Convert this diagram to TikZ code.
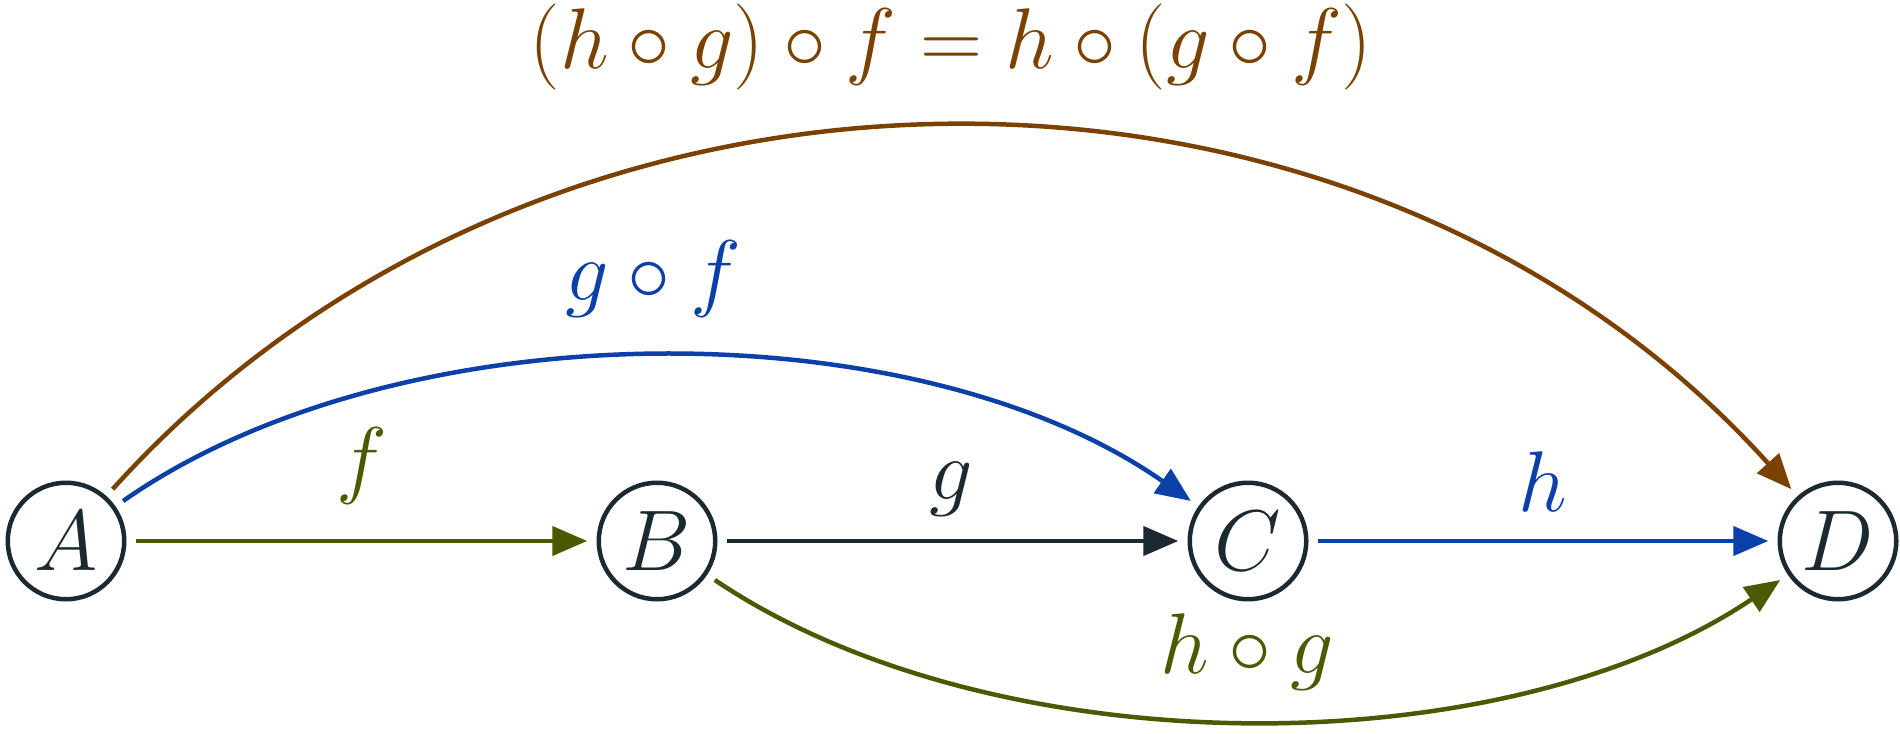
\RequirePackage{fix-cm}
\documentclass[tikz,border=0pt]{standalone}
\usetikzlibrary{arrows.meta}
\definecolor{cdark}{HTML}{1B2A30}
\definecolor{colive}{HTML}{4A5A00}
\definecolor{cblue}{HTML}{0A40A8}
\definecolor{cbrown}{HTML}{7A4100}
\tikzset{
  obj/.style={circle, draw=cdark, line width=0.045cm, minimum size=1.165cm, inner sep=0pt, outer sep=0.115cm, text=cdark},
  conn/.style={line width=0.045cm, -{Triangle[length=0.35cm, width=0.29cm]}},
  lbl/.style={anchor=base, inner sep=0pt}
}
\begin{document}
\begin{tikzpicture}[font=\fontsize{24.5}{29}\selectfont]
\useasboundingbox (0,0) rectangle (19,7.33);
\node[obj] (A) at (0.66,1.92) {$A$};
\node[obj] (B) at (6.57,1.92) {$B$};
\node[obj] (C) at (12.48,1.92) {$C$};
\node[obj] (D) at (18.38,1.92) {$D$};

\draw[conn, colive] (A) -- (B);
\draw[conn, cdark] (B) -- (C);
\draw[conn, cblue] (C) -- (D);

\draw[conn, cbrown] (A.48) .. controls +(48:6.5) and +(132:6.5) .. (D.132);
\draw[conn, cblue] (A.35) .. controls +(35:3.37) and +(145:3.37) .. (C.145);
\draw[conn, colive] (B.-34) .. controls +(-34:3.36) and +(-146:3.36) .. (D.-146);

\node[lbl, text=colive] (lf) at (3.62,2.46) {$f$};
\node[lbl, text=cdark] (lg) at (9.51,2.34) {$g$};
\node[lbl, text=cblue] (lh) at (15.43,2.21) {$h$};
\node[lbl, text=cblue] (lgf) at (6.53,4.32) {$g\circ f$};
\node[lbl, text=colive] (lhg) at (12.47,0.60) {$h\circ g$};
\node[lbl, text=cbrown] (ltop) at (9.51,6.64) {$(h\circ g)\circ f = h\circ (g\circ f)$};
\end{tikzpicture}
\end{document}
